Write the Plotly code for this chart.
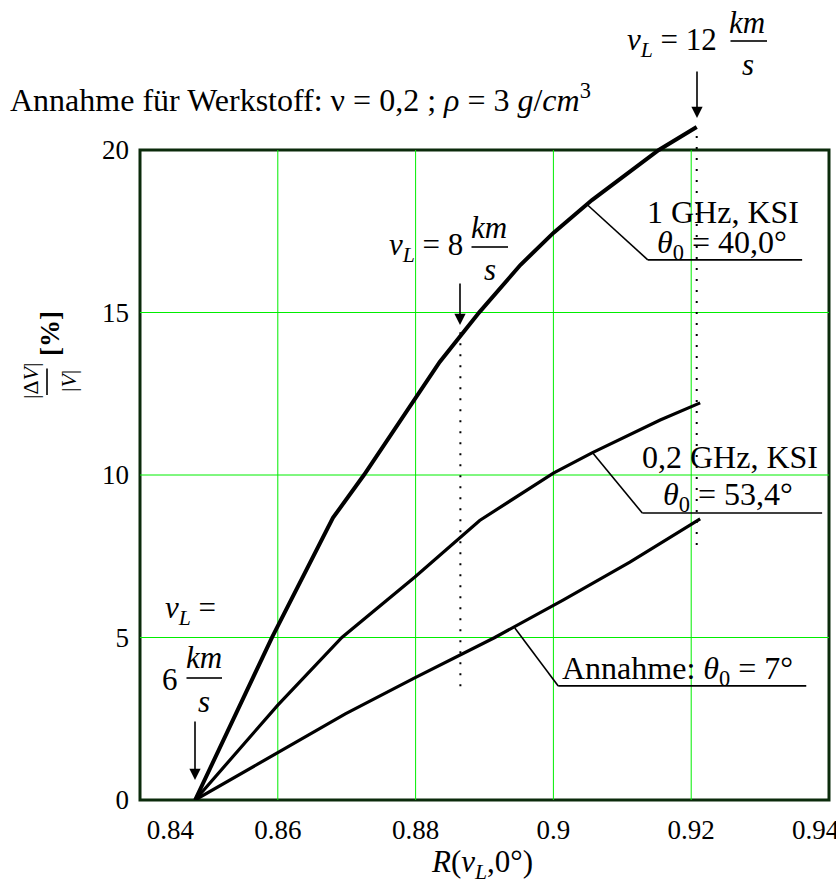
import plotly.graph_objects as go

# ---------------- data ----------------
r_1ghz = [0.848, 0.8592, 0.8680, 0.8725, 0.8835, 0.8893, 0.8952, 0.9000, 0.9056, 0.9153, 0.9208]
dv_1ghz = [0, 5.02, 8.68, 10.0, 13.48, 15.02, 16.46, 17.45, 18.46, 20.0, 20.71]

r_02ghz = [0.848, 0.86, 0.8693, 0.8799, 0.8893, 0.9, 0.9056, 0.9155, 0.9213]
dv_02ghz = [0, 2.92, 5.0, 6.86, 8.6, 10.06, 10.68, 11.69, 12.22]

r_7deg = [0.848, 0.86, 0.8698, 0.8798, 0.8915, 0.9014, 0.9111, 0.9213]
dv_7deg = [0, 1.45, 2.65, 3.75, 5.0, 6.15, 7.32, 8.65]

vl8_r = 0.8865
vl8_dv = [3.5, 14.6]
vl12_r = 0.9208
vl12_dv = [7.85, 20.5]

x_ticks = [0.84, 0.86, 0.88, 0.9, 0.92, 0.94]
x_ticklabels = ["0.84", "0.86", "0.88", "0.9", "0.92", "0.94"]
y_ticks = [0, 5, 10, 15, 20]
y_ticklabels = ["0", "5", "10", "15", "20"]

# ---------------- layout geometry ----------------
W, H = 836, 888
L, R, T, B = 140, 7, 120, 88
PW, PH = W - L - R, H - T - B
XMIN, XMAX = 0.84, 0.94
YMIN, YMAX = 0, 20 + 30 / 32.5

FONT = "Liberation Serif"
GRID = "#00ee00"
FRAME = "#0b2b0b"
NB = "\u00a0"

# end labels nudged inward like the original (pad with non-breaking spaces)
x_ticktext = list(x_ticklabels)
x_ticktext[0] = NB * 9 + x_ticktext[0]
x_ticktext[-1] = x_ticktext[-1] + NB * 4


def px(xp):
    return (xp - L) / PW


def py(yp):
    return (H - B - yp) / PH


fig = go.Figure()

for xs, ys, w in [(r_1ghz, dv_1ghz, 4), (r_02ghz, dv_02ghz, 3.2), (r_7deg, dv_7deg, 3.2)]:
    fig.add_trace(go.Scatter(x=xs, y=ys, mode="lines",
                             line=dict(color="black", width=w), showlegend=False,
                             hoverinfo="skip"))

# dotted velocity markers
for xr, ys in [(vl8_r, vl8_dv), (vl12_r, vl12_dv)]:
    fig.add_trace(go.Scatter(x=[xr, xr], y=ys, mode="lines",
                             line=dict(color="black", width=2, dash="2px,9px"),
                             showlegend=False, hoverinfo="skip"))

shapes = []
# grid lines
for xv in x_ticks[1:-1]:
    shapes.append(dict(type="line", xref="x", yref="y", x0=xv, x1=xv, y0=0, y1=20,
                       line=dict(color=GRID, width=1), layer="below"))
for yv in y_ticks[1:-1]:
    shapes.append(dict(type="line", xref="x", yref="y", x0=XMIN, x1=XMAX, y0=yv, y1=yv,
                       line=dict(color=GRID, width=1), layer="below"))
# frame (paper coords so it is not clipped)
shapes.append(dict(type="rect", xref="paper", yref="paper", x0=0, x1=1,
                   y0=0, y1=py(150),
                   line=dict(color=FRAME, width=3), layer="below"))

# leader lines
leaders = [
    [(0.9050, 18.3), (0.9137, 16.62), (0.9361, 16.62)],
    [(0.9056, 10.71), (0.9129, 8.83), (0.9390, 8.83)],
    [(0.8944, 5.29), (0.9007, 3.51), (0.9367, 3.51)],
]
for pts in leaders:
    for (xa, ya), (xb, yb) in zip(pts[:-1], pts[1:]):
        shapes.append(dict(type="line", xref="x", yref="y", x0=xa, y0=ya, x1=xb, y1=yb,
                           line=dict(color="black", width=1.6)))

annotations = []


def bar(x0p, y0p, x1p, y1p):
    """Fraction bar drawn as a head-less annotation arrow (pixel positions)."""
    annotations.append(dict(xref="paper", yref="paper", x=px(x1p), y=py(y1p), text="",
                            showarrow=True, arrowhead=0, arrowwidth=2, arrowcolor="#333333",
                            axref="pixel", ayref="pixel", ax=x0p - x1p, ay=y0p - y1p,
                            standoff=0, startstandoff=0))


bar(729, 41, 767, 41)
bar(470, 247, 508, 247)
bar(185, 678, 222, 678)
bar(47, 367, 47, 395)   # y-label fraction bar (vertical)


def txt(xp, yp, text, size=32, xanchor="center", angle=0, bold=False):
    if bold:
        text = "<b>" + text + "</b>"
    annotations.append(dict(xref="paper", yref="paper", x=px(xp), y=py(yp), text=text,
                            showarrow=False, xanchor=xanchor, yanchor="middle",
                            textangle=angle,
                            font=dict(family=FONT, size=size, color="black")))


def arrow(xp, y_tip, length):
    annotations.append(dict(xref="paper", yref="paper", x=px(xp), y=py(y_tip), text="",
                            showarrow=True, ax=0, ay=-length, axref="pixel", ayref="pixel",
                            arrowhead=2, arrowsize=1.4, arrowwidth=1.6, arrowcolor="black"))


# title line
txt(8, 98, "Annahme für Werkstoff: ν = 0,2 ; <i>ρ</i> = 3 <i>g</i>/<i>cm</i><sup>3</sup>",
    size=32, xanchor="left")

# vL = 12 km/s
txt(672, 42, "<i>v</i><sub><i>L</i></sub> = 12", size=31)
txt(747, 22, "<i>km</i>", size=31)
txt(748, 64, "<i>s</i>", size=31)
arrow(697, 118, 48)

# vL = 8 km/s
txt(426, 247, "<i>v</i><sub><i>L</i></sub> = 8", size=31)
txt(489, 227, "<i>km</i>", size=31)
txt(490, 269, "<i>s</i>", size=31)
arrow(460, 325, 43)

# vL = 6 km/s
txt(190, 610, "<i>v</i><sub><i>L</i></sub> =", size=31)
txt(170, 679, "6", size=31)
txt(204, 657, "<i>km</i>", size=31)
txt(204, 701, "<i>s</i>", size=31)
arrow(195, 780, 60)

# curve labels
txt(723, 212, "1 GHz, KSI", size=32)
txt(722, 244, "<i>θ</i><sub>0</sub> = 40,0°", size=32)
txt(730, 457, "0,2 GHz, KSI", size=32)
txt(728, 496, "<i>θ</i><sub>0</sub> = 53,4°", size=32)
txt(677, 670, "Annahme: <i>θ</i><sub>0</sub> = 7°", size=32)

# x-axis title
txt(482, 864, "<i>R</i>(<i>v</i><sub><i>L</i></sub>,0°)", size=31)

# y-axis title
txt(50, 334, "[%]", size=27, angle=-90, bold=True)
txt(30, 381, "|Δ<i>V</i>|", size=22, angle=-90)
txt(68, 381, "|<i>V</i>|", size=22, angle=-90)

fig.update_layout(
    width=W, height=H,
    margin=dict(l=L, r=R, t=T, b=B, pad=0),
    paper_bgcolor="white", plot_bgcolor="white",
    shapes=shapes, annotations=annotations,
    xaxis=dict(range=[XMIN - 1e-9, XMAX + 1e-9], tickvals=x_ticks, ticktext=x_ticktext,
               showgrid=False, zeroline=False, showline=False, ticks="",
               ticklabelstandoff=11, automargin=False, ticklabeloverflow="allow",
               tickfont=dict(family=FONT, size=27, color="black")),
    yaxis=dict(range=[YMIN, YMAX], tickvals=y_ticks, ticktext=y_ticklabels,
               showgrid=False, zeroline=False, showline=False, ticks="",
               ticklabelstandoff=10, automargin=False,
               tickfont=dict(family=FONT, size=27, color="black")),
    showlegend=False,
)

fig.write_html("out.html", config={"displayModeBar": False},
               post_script="document.body.style.margin='0px';")
